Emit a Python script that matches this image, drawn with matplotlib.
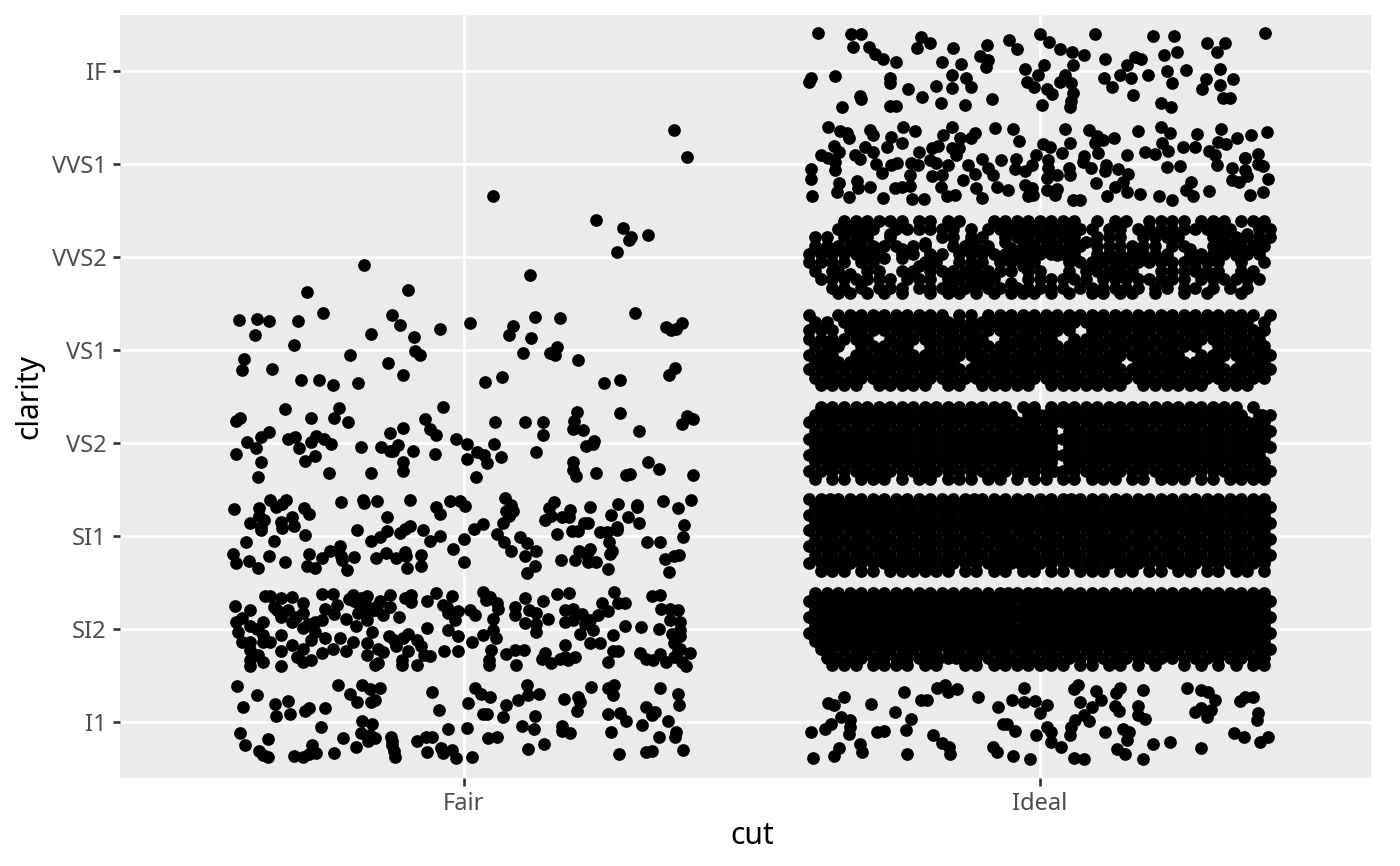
import matplotlib
matplotlib.use("Agg")
import matplotlib.pyplot as plt

# =========================
# data: jitter offset from the category centre, clarity position
# values, dense bands by eye
# =========================
cuts = ["Fair", "Ideal"]
clarity = ["I1", "SI2", "SI1", "VS2", "VS1", "VVS2", "VVS1", "IF"]

fair_i1 = [(-.393,1.387),(-.360,1.291),(-.383,1.158),(-.328,1.194),(-.305,1.230),(-.327,1.065),(-.302,1.086),(-.276,1.122),(-.269,1.147),(-.241,1.154),
(-.218,1.394),(-.197,1.301),(-.186,1.219),(-.176,1.402),(-.163,1.359),(-.146,1.369),(-.155,1.237),(-.162,1.219),(-.055,1.319),(-.043,1.129),
(.019,1.369),(.029,1.298),(.046,1.265),(.008,1.208),(.073,1.179),(.094,1.233),(.109,1.402),(.112,1.291),(.130,1.298),(.034,1.083),(.040,1.083),
(.068,1.050),(.123,1.068),(.174,1.248),(.199,1.265),(.201,1.219),(.196,1.118),(.220,1.380),(.251,1.362),(.261,1.398),(.259,1.291),(.250,1.086),
(.271,1.101),(.281,1.015),(.316,1.165),(.332,1.111),(.326,1.075),(.340,1.362),(.372,1.298),(.373,1.183),(.355,1.015),(.309,.972),
(-.389,.886),(-.380,.749),(-.340,.814),(-.356,.688),(-.340,.620),(-.349,.640),(-.295,.635),(-.279,.627),(-.263,.753),(-.257,.663),(-.268,.660),(-.248,.943),
(-.225,.663),(-.210,.825),(-.188,.735),(-.177,1.011),(-.160,.975),(-.179,.886),(-.163,.860),(-.166,.796),(-.155,.830),(-.126,.843),(-.124,.753),
(-.125,.800),(-.119,.627),(-.122,.690),(-.082,.796),(-.065,.843),(-.055,.843),(-.064,.681),(-.039,.717),(-.037,.670),(-.020,.699),(-.014,.609),
(-.027,.921),(.006,.939),(.015,.627),(.042,.825),(.058,.843),(.101,.957),(.122,.925),(.111,.710),(.140,.760),(.171,.961),(.170,.907),(.184,.878),
(.255,.896),(.269,.656),(.317,.674),(.326,.692),(.338,.835),(.368,.896),(.366,.843),(.381,.699)]

fair_si2 = [(-.398,2.25),(-.395,2.08),(-.392,1.97),(-.386,1.86),(-.372,2.20),(-.372,2.03),(-.372,1.86),(-.372,1.77),(-.372,1.67),(-.372,1.60),
(-.349,2.08),(-.349,1.94),(-.349,1.86),(-.349,1.65),(-.346,2.35),(-.337,2.35),(-.337,1.86),(-.325,2.20),(-.317,2.33),(-.317,2.13),(-.317,1.94),(-.317,1.76),
(-.317,1.60),(-.299,2.34),(-.299,2.08),(-.299,1.83),(-.279,2.28),(-.279,2.17),(-.279,2.01),(-.279,1.79),(-.279,1.65),(-.265,1.88),(-.265,1.67),(-.259,2.08),
(-.259,1.97),(-.247,2.38),(-.247,2.10),(-.247,1.74),(-.241,2.22),(-.241,1.90),(-.227,2.38),(-.227,1.79),(-.220,2.26),(-.204,2.11),(-.204,1.76),(-.192,2.37),
(-.192,1.86),(-.188,2.03),(-.184,2.28),(-.184,2.17),(-.169,2.35),(-.169,2.22),(-.169,2.10),(-.169,1.85),(-.169,1.72),(-.160,1.97),(-.149,1.79),(-.149,1.63),
(-.155,1.61),(-.140,2.15),(-.129,2.37),(-.129,2.24),(-.122,1.88),(-.113,2.13),(-.108,1.67),(-.108,1.61),(-.102,2.33),(-.097,1.95),(-.097,1.76),(-.082,1.61),
(-.082,1.88),(-.091,2.37),(-.091,2.29),(-.064,2.30),(-.064,2.01),(-.058,1.71),(-.049,2.39),(-.035,1.76),(-.036,2.26),(-.027,2.17),(-.027,1.99),(-.020,2.35),
(-.010,2.19),(-.010,1.92),(-.010,1.76),(.015,1.86),(.019,2.15),(.034,2.40),(.034,1.94),(.039,2.31),(.051,2.11),(.051,1.99),(.048,1.77),(.044,1.67),(.044,1.61),
(.057,2.28),(.074,1.73),(.089,2.24),(.089,2.15),(.089,1.77),(.091,1.61),(.106,2.33),(.106,2.06),(.104,1.77),(.126,2.17),(.126,1.97),(.137,2.30),(.141,1.74),
(.146,2.11),(.135,1.68),(.152,1.63),(.162,2.38),(.167,1.68),(.175,2.20),(.175,2.08),(.175,1.83),(.175,1.70),(.183,2.39),(.181,1.67),(.190,2.22),(.190,2.10),
(.193,1.70),(.201,1.95),(.219,2.10),(.219,1.85),(.225,1.99),(.233,2.15),(.237,1.85),(.239,2.28),(.251,2.19),(.251,1.65),(.259,1.94),(.259,1.76),(.261,2.40),
(.268,2.28),(.268,1.76),(.280,2.28),(.280,2.03),(.307,2.02),(.306,1.74),(.317,1.68),(.327,2.35),(.329,1.67),(.338,2.00),(.340,2.36),(.343,2.22),(.351,1.65),
(.358,2.10),(.358,2.22),(.364,1.85),(.364,1.70),(.371,2.20),(.375,2.08),(.375,1.99),(.375,1.92),(.375,1.79),(.378,1.65),(.386,1.60),(.393,1.74),
(-.385,2.12),(-.360,2.00),(-.358,1.72),(-.330,2.24),(-.305,2.20),(-.292,2.13),(-.290,1.70),(-.270,2.05),(-.225,2.16),(-.215,1.90),(-.200,2.32),(-.190,2.30),
(-.178,2.33),(-.172,2.28),(-.165,2.18),(-.155,2.20),(-.150,2.25),(-.145,2.30),(-.140,1.75),(-.130,1.92),(-.118,1.82),(-.105,1.90),(-.075,1.82),(-.070,1.72),
(-.030,2.24),(-.015,2.10),(.010,2.20),(.046,2.34),(.056,1.90),(.060,2.21),(.113,2.20),(.125,2.05),(.210,2.05),(.205,2.16),(.340,1.73),(.362,1.95),(.372,1.76)]

fair_si1 = [(-.399,3.29),(-.356,3.30),(-.337,3.39),(-.309,3.39),(-.326,3.31),(-.315,3.34),(-.277,3.30),(-.268,3.24),(-.213,3.37),(-.175,3.39),(-.173,3.35),
(-.150,3.38),(-.094,3.39),(-.049,3.31),(-.042,3.24),(-.024,3.38),(-.006,3.38),(.002,3.32),(.071,3.41),(.082,3.33),(.073,3.27),(.086,3.27),(.156,3.36),(.148,3.30),
(.184,3.28),(.219,3.31),(.268,3.34),(.300,3.33),(.300,3.31),(.345,3.38),(.372,3.30),(.394,3.39),
(-.372,3.14),(-.356,3.21),(-.347,3.17),(-.352,3.10),(-.353,3.06),(-.317,3.15),(-.316,3.09),(-.298,3.20),(-.295,3.11),(-.275,3.01),(-.185,3.06),(-.134,3.20),
(-.134,3.05),(-.146,2.99),(-.162,2.95),(-.111,3.03),(-.102,3.08),(-.093,3.11),(-.071,3.06),(-.059,2.95),(-.041,3.00),(0,2.97),(.017,3.08),(.034,3.13),(.068,3.14),
(.078,3.21),(.058,3.02),(.069,2.94),(.097,2.99),(.110,2.92),(.141,3.17),(.152,3.21),(.170,3.20),(.183,3.20),(.162,3.02),(.187,3.05),(.199,3.05),(.208,3.14),
(.216,3.14),(.236,3.04),(.248,3.04),(.256,3.22),(.266,3.10),(.266,3.06),(.285,3.20),(.304,3.14),(.252,2.93),(.318,2.94),(.340,2.93),(.382,3.12),(.380,2.99),
(-.379,2.93),(-.330,2.95),(-.401,2.81),(-.395,2.71),(-.373,2.73),(-.358,2.66),(-.338,2.78),(-.311,2.72),(-.268,2.81),(-.272,2.68),(-.258,2.66),(-.247,2.76),(-.233,2.84),
(-.215,2.89),(-.214,2.78),(-.211,2.74),(-.191,2.77),(-.203,2.63),(-.153,2.76),(-.135,2.82),(-.117,2.76),(-.103,2.83),(-.100,2.78),(-.099,2.66),(-.074,2.80),(-.074,2.68),
(-.019,2.86),(.000,2.72),(.081,2.84),(.106,2.78),(.126,2.84),(.123,2.68),(.110,2.60),(.169,2.74),(.193,2.74),(.200,2.84),(.219,2.86),(.213,2.79),(.230,2.72),
(.216,2.72),(.251,2.65),(.258,2.84),(.253,2.81),(.349,2.75),(.364,2.78),(.374,2.80),(.357,2.61)]

fair_vs2 = [(-.396,4.24),(-.388,4.27),(-.311,4.37),(-.266,4.27),(-.226,4.27),(-.217,4.38),(-.201,4.22),(-.338,4.12),(-.353,4.06),(-.377,4.01),(-.361,3.95),(-.395,3.88),
(-.352,3.79),(-.357,3.63),(-.305,4.04),(-.294,4.06),(-.287,3.95),(-.275,3.81),(-.258,3.86),(-.265,4.01),(-.256,4.07),(-.243,4.04),(-.230,3.99),(-.179,3.96),(-.234,3.68),
(-.162,3.68),(-.143,3.96),(-.129,4.11),(-.106,4.16),(-.114,3.98),(-.129,3.91),(-.123,3.91),(-.089,3.91),(-.106,3.80),(-.105,3.70),(-.068,4.26),(-.058,4.15),(-.048,4.09),
(-.036,4.39),(-.050,3.88),(-.013,4.04),(.006,3.99),(.022,3.90),(.006,3.83),(.035,3.87),(.040,3.78),(.052,3.99),(.065,3.85),(.021,3.63),(.054,4.23),(.106,4.22),
(.138,4.22),(.137,4.09),(.125,3.90),(.197,4.33),(.191,4.24),(.190,4.15),(.207,4.14),(.212,3.97),(.224,3.99),(.226,4.02),(.189,3.79),(.189,3.71),(.194,3.64),
(.229,3.68),(.271,4.32),(.304,4.13),(.320,3.79),(.338,3.72),(.281,3.66),(.288,3.67),(.397,3.66),(.388,4.29),(.397,4.26),(.378,4.20),
(-.385,4.78),(-.333,4.79),(-.283,4.68),(-.252,4.68),(-.227,4.62),(-.183,4.64),(-.105,4.73),(.036,4.66),(.067,4.71),(.244,4.64),(.271,4.68),(.356,4.73),(.367,4.81),
(-.381,4.90),(-.197,4.95),(-.085,4.99),(-.077,4.95),(-.131,4.86),(.103,4.97),(.161,5.03),(.158,4.94),(.199,4.89),(.149,4.97)]

fair_vs1 = [(-.390,5.32),(-.360,5.33),(-.339,5.31),(-.288,5.31),(-.244,5.40),(-.363,5.16),(-.295,5.05),(-.124,5.37),(-.111,5.27),(-.161,5.17),(-.087,5.14),(-.041,5.22),
(.010,5.29),(.086,5.26),(.078,5.16),(.123,5.35),(.167,5.34),(.116,5.13),(.298,5.40),(.351,5.25),(.378,5.29),(.369,5.22),(.360,5.21)]
fair_vvs2 = [(-.173,5.91),(-.273,5.62),(-.097,5.64),(.115,5.81)]
fair_vvs1 = [(.229,6.40),(.276,6.31),(.291,6.21),(.287,6.18),(.319,6.24),(.266,6.05)]
fair_if = [(.365,7.36),(.388,7.07),(.051,6.65)]

ideal_i1 = [(-.340,1.265),(-.368,1.201),(-.358,1.183),(-.293,1.197),(-.236,1.326),(-.206,1.237),(-.196,1.237),(-.178,1.362),(-.164,1.398),(-.159,1.326),(-.144,1.355),
(-.107,1.265),(-.073,1.165),(-.049,1.237),(-.028,1.366),(-.028,1.219),(-.009,1.230),(.013,1.183),(0,1.093),(.067,1.398),(.060,1.355),(.097,1.337),(.070,1.219),
(.107,1.237),(.091,1.158),(.139,1.362),(.133,1.308),(.180,1.344),(.131,1.176),(.137,1.118),(.170,1.176),(.171,1.075),(.182,1.029),(.255,1.362),(.279,1.344),(.292,1.319),
(.305,1.237),(.269,1.111),(.279,1.147),(.298,1.129),(.291,1.050),(.348,1.226),(.356,1.265),(.370,1.265),(.379,1.101),(.377,1.022),
(-.251,1.104),(-.223,1.032),(-.346,1.057),(-.329,1.022),(-.363,.979),(-.373,.921),(-.398,.889),(-.330,.950),(-.331,.871),(-.282,.889),(-.271,.907),(-.232,.914),
(-.185,.864),(-.169,.771),(-.158,.735),(-.156,.652),(-.231,.656),(-.313,.760),(-.309,.674),(-.349,.724),(-.358,.635),(-.393,.617),(-.081,.735),(-.074,.674),
(-.047,.638),(-.017,.602),(-.064,.979),(-.057,.979),(-.043,.903),(-.007,.864),(.013,.950),(.019,.896),(.019,.789),(.036,.728),(.052,.860),(.055,.950),(.061,1.022),
(.077,1.075),(.085,1.015),(.060,.617),(.077,.602),(.114,.889),(.145,.925),(.154,.896),(.151,.807),(.134,.710),(.148,.652),(.180,.602),(.196,.760),(.226,.781),
(.280,.724),(.338,.885),(.354,.843),(.383,.781),(.396,.843)]

ideal_if = [(-.385,8.405),(-.327,8.394),(-.310,8.394),(-.325,8.261),(-.297,8.254),(-.287,8.179),(-.272,8.125),(-.250,8.100),(-.206,8.362),(-.190,8.304),(-.213,8.244),
(-.150,8.244),(-.170,8.097),(-.136,8.072),(-.104,8.154),(-.091,8.279),(-.090,8.118),(-.093,8.046),(-.053,8.326),(-.039,8.236),(0,8.398),(.016,8.308),(.035,8.236),
(.056,8.200),(.077,8.165),(.058,8.064),(.008,8.064),(-.025,8.021),(-.003,7.957),(.096,8.398),(.114,8.125),(.197,8.369),(.233,8.369),(.290,8.297),(.321,8.304),(.307,8.197),
(.391,8.405),(.215,8.165),(.238,8.200),(.165,8.147),(.176,8.125),(.152,8.064),(.254,8.011),(.220,8.000),(.187,7.957),(.139,7.957),(.159,7.921),(.229,7.867),(.313,8.018),
(.336,7.910),(.289,7.910),(.312,7.849),(.281,7.806),(.112,7.928),(.126,7.831),(.162,7.742),(.211,7.652),(.227,7.606),(.318,7.706),(.330,7.706),
(-.400,7.885),(-.397,7.921),(-.356,7.939),(-.260,7.921),(-.260,7.867),(-.152,7.957),(-.129,7.928),(-.120,7.831),(-.153,7.813),(-.180,7.842),(-.228,7.803),(-.204,7.717),
(-.313,7.724),(-.310,7.695),(-.344,7.613),(-.260,7.623),(-.250,7.623),(-.172,7.652),(-.130,7.634),(-.083,7.699),(-.023,7.885),(-.010,7.824),(.012,7.806),(.022,7.753),
(.003,7.634),(.035,7.885),(.044,7.957),(.055,7.867),(.058,7.760),(.055,7.677),(.052,7.606)]

ideal_vvs1 = [(-.368,7.394),(-.347,7.358),(-.334,7.330),(-.332,7.276),(-.295,7.365),(-.289,7.312),(-.259,7.287),(-.237,7.394),(-.217,7.355),(-.153,7.401),(-.168,7.312),(-.139,7.276),
(-.113,7.330),(-.119,7.283),(-.078,7.383),(-.046,7.373),(-.036,7.247),(.043,7.376),(.086,7.365),(.100,7.301),(.129,7.283),(.110,7.258),(.170,7.358),(.211,7.391),(.226,7.330),
(.273,7.322),(.314,7.373),(.342,7.276),(.366,7.312),(.395,7.340),(-.358,7.197),(-.304,7.176),(-.289,7.125),(-.265,7.186),(-.240,7.222),(-.210,7.125),(-.188,7.168),(-.177,7.197),
(-.153,7.168),(-.141,7.168),(.006,7.211),(.017,7.186),(.053,7.222),(.095,7.222),(.039,7.115),(.152,7.097),(.182,7.125),(.200,7.104),(.212,7.222),(.223,7.133),(.248,7.176),
(.270,7.179),(.293,7.143),(.310,7.240),(.324,7.215),(.305,7.097),(.378,7.107),(.356,7.061),(-.380,7.097),(-.367,7.061),(-.349,7.122),(-.321,7.097),(-.312,7.050),(-.356,7.025),
(-.285,7.000),(-.258,6.989),(-.248,7.014),(-.223,7.007),(-.191,7.036),(-.180,7.007),(-.145,7.097),(-.100,7.050),(-.068,7.043),(-.042,7.050),(-.006,7.097),(.014,7.036),
(.077,7.079),(.101,7.115),(.075,7.025),(.378,7.000),(.356,7.061),(-.397,6.946),(-.398,6.835),(-.355,6.935),(-.274,6.900),(-.225,6.882),(-.212,6.989),(-.159,6.989),(-.170,6.882),
(-.188,6.871),(-.124,6.989),(-.090,6.953),(-.113,6.889),(-.081,6.882),(-.043,6.946),(-.026,6.918),(-.014,6.989),(.014,6.953),(.012,6.853),(.029,6.882),(.051,6.953),
(.052,6.882),(.089,6.953),(.115,6.989),(.113,6.918),(.136,6.946),(.153,6.889),(.220,6.964),(.244,6.978),(.308,6.989),(.388,6.978),(.333,6.953),(.356,6.935),(.359,6.874),
(.333,6.828),(.345,6.810),(-.349,6.792),(-.353,6.692),(-.317,6.817),(-.316,6.738),(-.294,6.756),(-.331,6.642),(-.395,6.649),(-.273,6.631),(-.252,6.738),(-.240,6.749),(-.226,6.767),
(-.222,6.624),(-.201,6.624),(-.171,6.756),(-.134,6.828),(-.162,6.649),(-.148,6.667),(-.110,6.738),(-.100,6.638),(-.075,6.756),(-.056,6.720),(-.026,6.774),(-.013,6.738),
(-.021,6.649),(-.012,6.667),(.012,6.720),(.029,6.731),(.026,6.667),(.058,6.613),(.069,6.613),(.098,6.799),(.116,6.649),(.130,6.756),(.145,6.810),(.151,6.702),(.174,6.674),
(.207,6.649),(.230,6.613),(.263,6.810),(.254,6.720),(.266,6.649),(.294,6.713),(.365,6.667),(.388,6.702),(.397,6.835)]

ideal_vvs2_y = [6.39,6.30,6.21,6.12,6.03,5.94,5.85,5.76,5.67,5.61]
ideal_vvs2_x = [
[-.34,-.32,-.30,-.28,-.26,-.24,-.21,-.19,-.16,-.14,-.08,-.06,-.04,-.02,0,.02,.04,.06,.10,.13,.15,.19,.21,.23,.25,.28,.30,.32,.35,.37,.39],
[-.35,-.33,-.31,-.29,-.25,-.23,-.21,-.19,-.17,-.15,-.12,-.09,-.07,-.05,-.03,-.01,.01,.03,.05,.07,.09,.12,.14,.17,.19,.21,.23,.25,.27,.29,.31,.33,.38,.40],
[-.39,-.37,-.34,-.32,-.30,-.26,-.17,-.15,-.12,-.10,-.06,-.04,-.02,0,.02,.04,.06,.10,.12,.14,.18,.20,.22,.24,.30,.32,.34,.36,.38,.40],
[-.39,-.37,-.35,-.33,-.31,-.29,-.27,-.25,-.22,-.20,-.15,-.13,-.11,-.09,-.03,-.01,.01,.03,.05,.07,.10,.12,.14,.16,.18,.20,.23,.25,.31,.33,.35,.37,.39],
[-.40,-.38,-.36,-.34,-.32,-.30,-.28,-.24,-.22,-.19,-.17,-.14,-.12,-.10,-.08,-.06,-.04,-.02,0,.02,.04,.06,.10,.12,.14,.16,.18,.20,.22,.26,.28,.30,.32,.36,.38],
[-.40,-.38,-.36,-.34,-.31,-.29,-.20,-.18,-.14,-.12,-.10,-.07,-.05,-.03,-.01,.05,.07,.09,.11,.13,.15,.17,.19,.21,.23,.25,.27,.29,.31,.35,.39],
[-.39,-.35,-.30,-.28,-.24,-.22,-.19,-.17,-.15,-.13,-.11,-.09,-.07,-.05,-.02,0,.05,.08,.10,.12,.14,.16,.21,.23,.25,.27,.29,.31,.35,.37],
[-.38,-.36,-.34,-.32,-.30,-.28,-.26,-.23,-.21,-.19,-.16,-.14,-.12,-.10,-.08,-.02,0,.02,.04,.06,.08,.11,.13,.15,.17,.19,.21,.23,.25,.28,.30,.32,.34,.36,.38],
[-.36,-.34,-.31,-.28,-.26,-.24,-.21,-.19,-.17,-.15,-.13,-.11,-.09,-.07,-.04,-.02,0,.02,.04,.07,.09,.11,.13,.15,.17,.20,.22,.25,.27,.30,.33,.36],
[-.35,-.33,-.30,-.27,-.24,-.19,-.16,-.14,-.11,-.08,-.05,-.03,-.01,.02,.05,.09,.11,.14,.16,.20,.25,.29,.35],
]
ideal_vvs2_fill = [(-.27,5.99),(-.28,6.05),(-.24,5.99),(-.24,6.08),(-.20,6.15),(-.21,5.90),(-.06,6.16),(-.05,6.10),(.03,6.02),(.02,6.08),(.31,6.18),(.30,6.12),(.32,6.12),
(-.07,5.98),(-.03,5.90),(.08,6.16),(.17,6.05),(.26,6.08),(-.36,5.85),(-.33,5.82),(-.26,6.25),(-.12,6.17),(-.10,5.72),(-.05,5.72),(.34,6.02),(.27,5.88),(.36,6.25)]

ideal_vs1_y = [5.38,5.30,5.21,5.12,5.04,4.95,4.87,4.79,4.70,4.62]
ideal_vs1_x = [
[-.40,-.35,-.33,-.31,-.29,-.27,-.25,-.23,-.21,-.19,-.17,-.14,-.12,-.09,-.07,-.05,-.03,-.01,.01,.03,.05,.07,.09,.11,.13,.15,.17,.19,.21,.23,.25,.27,.29,.31,.33,.35,.37,.40],
[-.39,-.37,-.34,-.32,-.30,-.28,-.26,-.24,-.22,-.20,-.18,-.16,-.14,-.12,-.10,-.08,-.06,-.04,-.02,0,.02,.04,.06,.08,.10,.12,.14,.16,.18,.20,.22,.24,.26,.28,.30,.32,.34,.36,.39],
[-.40,-.38,-.36,-.33,-.31,-.29,-.27,-.25,-.23,-.21,-.19,-.17,-.15,-.13,-.11,-.09,-.07,-.05,-.03,-.01,.01,.03,.05,.09,.11,.13,.15,.17,.19,.21,.23,.25,.27,.29,.31,.33,.35,.37,.39],
[-.40,-.38,-.36,-.34,-.32,-.30,-.26,-.24,-.22,-.20,-.18,-.16,-.14,-.12,-.10,-.06,-.04,-.02,0,.02,.06,.08,.10,.12,.14,.16,.18,.20,.22,.24,.26,.28,.30,.32,.34,.36,.38],
[-.39,-.37,-.35,-.31,-.29,-.27,-.25,-.23,-.19,-.17,-.15,-.13,-.11,-.09,-.07,-.05,-.03,-.01,.01,.03,.05,.07,.09,.11,.13,.15,.17,.19,.21,.23,.25,.27,.31,.33,.35,.37,.39],
[-.40,-.38,-.36,-.32,-.30,-.28,-.26,-.24,-.22,-.20,-.18,-.16,-.14,-.12,-.10,-.08,-.06,-.04,-.02,0,.02,.04,.06,.08,.10,.12,.14,.16,.18,.20,.22,.24,.28,.30,.32,.34,.36,.38,.40],
[-.39,-.37,-.35,-.33,-.31,-.29,-.27,-.25,-.23,-.21,-.19,-.17,-.15,-.11,-.09,-.07,-.05,-.03,-.01,.01,.03,.05,.07,.09,.11,.13,.17,.19,.21,.23,.25,.27,.29,.31,.35,.37,.39],
[-.40,-.38,-.36,-.34,-.32,-.30,-.28,-.26,-.24,-.22,-.20,-.18,-.16,-.14,-.12,-.10,-.08,-.06,-.04,-.02,0,.02,.04,.06,.08,.10,.12,.14,.16,.18,.20,.22,.24,.26,.28,.30,.32,.34,.36,.38,.40],
[-.39,-.37,-.35,-.33,-.31,-.29,-.27,-.25,-.23,-.21,-.19,-.17,-.15,-.13,-.11,-.09,-.07,-.05,-.03,-.01,.01,.03,.05,.07,.09,.11,.13,.15,.17,.19,.21,.23,.25,.27,.29,.31,.33,.35,.37,.39],
[-.38,-.36,-.34,-.32,-.28,-.26,-.24,-.22,-.20,-.16,-.14,-.10,-.08,-.06,-.04,-.02,.02,.04,.06,.08,.10,.12,.14,.18,.20,.22,.24,.26,.28,.32,.34,.36],
]

ideal_vs2_y = [4.39,4.30,4.22,4.13,4.04,3.96,3.87,3.79,3.70,3.61]
ideal_vs2_x = [
[-.38,-.36,-.34,-.32,-.30,-.28,-.26,-.24,-.22,-.20,-.18,-.16,-.14,-.12,-.10,-.08,-.06,-.03,-.01,.02,.04,.06,.08,.10,.12,.14,.16,.18,.20,.22,.24,.26,.28,.30,.32,.34,.37],
[-.39,-.37,-.35,-.33,-.31,-.29,-.27,-.25,-.23,-.21,-.19,-.17,-.15,-.13,-.11,-.09,-.07,-.05,-.02,0,.03,.05,.07,.09,.11,.13,.15,.17,.19,.21,.23,.25,.27,.29,.31,.33,.35,.38,.40],
[-.40,-.38,-.36,-.34,-.32,-.30,-.28,-.26,-.24,-.22,-.20,-.18,-.16,-.14,-.12,-.10,-.08,-.06,-.04,-.01,.01,.04,.06,.08,.10,.12,.14,.16,.18,.20,.22,.24,.26,.28,.30,.32,.34,.36,.39],
[-.39,-.37,-.35,-.33,-.31,-.29,-.27,-.25,-.23,-.21,-.19,-.17,-.15,-.13,-.11,-.09,-.07,-.05,-.03,0,.02,.05,.07,.09,.11,.13,.15,.17,.19,.21,.23,.25,.27,.29,.31,.33,.35,.37,.40],
[-.40,-.38,-.36,-.34,-.32,-.30,-.28,-.26,-.24,-.22,-.20,-.18,-.16,-.14,-.12,-.10,-.08,-.06,-.04,-.01,.01,.04,.06,.08,.10,.12,.14,.16,.18,.20,.22,.24,.26,.28,.30,.32,.34,.36,.39],
[-.39,-.37,-.35,-.33,-.31,-.29,-.27,-.25,-.23,-.21,-.19,-.17,-.15,-.13,-.11,-.09,-.07,-.05,-.03,0,.02,.05,.07,.09,.11,.13,.15,.17,.19,.21,.23,.25,.27,.29,.31,.33,.35,.37,.40],
[-.40,-.38,-.36,-.34,-.32,-.30,-.28,-.26,-.24,-.22,-.20,-.18,-.16,-.14,-.12,-.10,-.08,-.06,-.04,-.01,.01,.04,.06,.08,.10,.12,.14,.16,.18,.20,.22,.24,.26,.28,.30,.32,.34,.36,.38],
[-.39,-.37,-.35,-.33,-.31,-.29,-.27,-.25,-.23,-.21,-.19,-.17,-.15,-.13,-.11,-.09,-.07,-.05,-.03,0,.02,.05,.07,.09,.11,.13,.15,.17,.19,.21,.23,.25,.27,.29,.31,.33,.35,.37,.39],
[-.40,-.38,-.36,-.34,-.32,-.30,-.28,-.26,-.24,-.22,-.20,-.18,-.16,-.14,-.12,-.10,-.08,-.06,-.04,-.01,.01,.04,.06,.08,.10,.12,.14,.16,.18,.20,.22,.24,.26,.28,.30,.32,.34,.36,.38,.40],
[-.39,-.36,-.34,-.31,-.29,-.27,-.24,-.21,-.19,-.16,-.14,-.12,-.09,-.07,-.04,-.01,.01,.04,.06,.09,.11,.13,.16,.18,.21,.23,.25,.28,.30,.33,.35,.37,.39],
]
ideal_vs2_fill = [(-.025,4.22),(-.025,4.04),(-.025,3.87),(-.025,3.70),(-.015,4.30),(-.015,4.13),(-.015,3.96),(-.015,3.79),(.01,4.30),(.01,4.13),(.01,3.96),(.01,3.79),
(.025,4.22),(.025,4.04),(.025,3.87),(.025,3.70),(.375,4.22),(.375,4.04),(.375,3.87),(.385,4.30),(.385,4.13),(.385,3.96),(.385,3.79)]

ideal_si1_y = [3.40,3.31,3.23,3.14,3.06,2.97,2.89,2.80,2.71,2.62]
ideal_si1_x = [
[-.40,-.38,-.35,-.33,-.31,-.29,-.27,-.25,-.23,-.21,-.19,-.17,-.15,-.13,-.10,-.08,-.06,-.04,-.02,0,.02,.04,.07,.09,.11,.13,.15,.17,.19,.21,.23,.25,.27,.29,.31,.33,.35,.37,.39],
[-.39,-.37,-.36,-.34,-.32,-.30,-.28,-.26,-.24,-.22,-.20,-.18,-.16,-.14,-.12,-.09,-.07,-.05,-.03,-.01,.01,.03,.05,.08,.10,.12,.14,.16,.18,.20,.22,.24,.26,.28,.30,.32,.34,.36,.38,.40],
[-.40,-.38,-.35,-.33,-.31,-.29,-.27,-.25,-.23,-.21,-.19,-.17,-.15,-.13,-.11,-.08,-.06,-.04,-.02,0,.02,.04,.06,.09,.11,.13,.15,.17,.19,.21,.23,.25,.27,.29,.31,.33,.35,.37,.39],
[-.39,-.37,-.36,-.34,-.32,-.30,-.28,-.26,-.24,-.22,-.20,-.18,-.16,-.14,-.12,-.10,-.07,-.05,-.03,-.01,.01,.03,.05,.07,.10,.12,.14,.16,.18,.20,.22,.24,.26,.28,.30,.32,.34,.36,.38,.40],
[-.40,-.38,-.35,-.33,-.31,-.29,-.27,-.25,-.23,-.21,-.19,-.17,-.15,-.13,-.11,-.09,-.06,-.04,-.02,0,.02,.04,.06,.08,.11,.13,.15,.17,.19,.21,.23,.25,.27,.29,.31,.33,.35,.37,.39],
[-.39,-.37,-.36,-.34,-.32,-.30,-.28,-.26,-.24,-.22,-.20,-.18,-.16,-.14,-.12,-.10,-.08,-.05,-.03,-.01,.01,.03,.05,.07,.09,.12,.14,.16,.18,.20,.22,.24,.26,.28,.30,.32,.34,.36,.38,.40],
[-.40,-.38,-.35,-.33,-.31,-.29,-.27,-.25,-.23,-.21,-.19,-.17,-.15,-.13,-.11,-.09,-.07,-.04,-.02,0,.02,.04,.06,.08,.10,.13,.15,.17,.19,.21,.23,.25,.27,.29,.31,.33,.35,.37,.39],
[-.39,-.37,-.36,-.34,-.32,-.30,-.28,-.26,-.24,-.22,-.20,-.18,-.16,-.14,-.12,-.10,-.08,-.06,-.03,-.01,.01,.03,.05,.07,.09,.11,.14,.16,.18,.20,.22,.24,.26,.28,.30,.32,.34,.36,.38,.40],
[-.40,-.38,-.35,-.33,-.31,-.29,-.27,-.25,-.23,-.21,-.19,-.17,-.15,-.13,-.11,-.09,-.07,-.05,-.02,0,.02,.04,.06,.08,.10,.12,.15,.17,.19,.21,.23,.25,.27,.29,.31,.33,.35,.37,.39],
[-.38,-.36,-.34,-.31,-.29,-.26,-.24,-.22,-.20,-.18,-.16,-.13,-.11,-.08,-.06,-.03,-.01,.02,.04,.07,.09,.11,.14,.16,.19,.21,.24,.26,.29,.31,.34,.36,.39],
]
ideal_si1_fill = [(-.115,3.40),(-.105,3.31),(-.095,3.23),(-.085,3.14),(-.075,3.06),(-.065,2.97),(-.055,2.89),(-.045,2.80),(-.035,2.71),
(.055,3.40),(.065,3.31),(.075,3.23),(.085,3.14),(.095,3.06),(.105,2.97),(.115,2.89),(.125,2.80),(.135,2.71),
(-.365,3.40),(-.365,3.23),(-.365,3.06),(-.365,2.89),(-.365,2.71)]

ideal_si2_y = [2.39,2.30,2.21,2.13,2.04,1.96,1.87,1.78,1.69,1.61]
ideal_si2_x = [
[-.39,-.37,-.35,-.33,-.31,-.29,-.27,-.25,-.23,-.21,-.19,-.17,-.15,-.13,-.11,-.09,-.07,-.04,-.02,.01,.03,.05,.07,.09,.11,.13,.15,.17,.19,.21,.23,.25,.27,.29,.31,.33,.35,.37,.39],
[-.40,-.38,-.36,-.34,-.32,-.30,-.28,-.26,-.24,-.22,-.20,-.18,-.16,-.14,-.12,-.10,-.08,-.05,-.03,0,.02,.04,.06,.08,.10,.12,.14,.16,.18,.20,.22,.24,.26,.28,.30,.32,.34,.36,.38,.40],
[-.39,-.37,-.35,-.33,-.31,-.29,-.27,-.25,-.23,-.21,-.19,-.17,-.15,-.13,-.11,-.09,-.07,-.05,-.02,.01,.03,.05,.07,.09,.11,.13,.15,.17,.19,.21,.23,.25,.27,.29,.31,.33,.35,.37,.39],
[-.40,-.38,-.36,-.34,-.32,-.30,-.28,-.26,-.24,-.22,-.20,-.18,-.16,-.14,-.12,-.10,-.08,-.06,-.03,0,.02,.04,.06,.08,.10,.12,.14,.16,.18,.20,.22,.24,.26,.28,.30,.32,.34,.36,.38,.40],
[-.39,-.37,-.35,-.33,-.31,-.29,-.27,-.25,-.23,-.21,-.19,-.17,-.15,-.13,-.11,-.09,-.07,-.05,-.03,.01,.03,.05,.07,.09,.11,.13,.15,.17,.19,.21,.23,.25,.27,.29,.31,.33,.35,.37,.39],
[-.40,-.38,-.36,-.34,-.32,-.30,-.28,-.26,-.24,-.22,-.20,-.18,-.16,-.14,-.12,-.10,-.08,-.06,-.04,0,.02,.04,.06,.08,.10,.12,.14,.16,.18,.20,.22,.24,.26,.28,.30,.32,.34,.36,.38,.40],
[-.39,-.37,-.35,-.33,-.31,-.29,-.27,-.25,-.23,-.21,-.19,-.17,-.15,-.13,-.11,-.09,-.07,-.05,-.03,-.01,.03,.05,.07,.09,.11,.13,.15,.17,.19,.21,.23,.25,.27,.29,.31,.33,.35,.37,.39],
[-.38,-.36,-.34,-.32,-.30,-.28,-.26,-.24,-.22,-.20,-.18,-.16,-.14,-.12,-.10,-.08,-.06,-.04,-.02,0,.02,.04,.06,.08,.10,.12,.14,.16,.18,.20,.22,.24,.26,.28,.30,.32,.34,.36,.38,.40],
[-.37,-.35,-.33,-.31,-.29,-.27,-.25,-.23,-.21,-.19,-.16,-.13,-.11,-.09,-.07,-.05,-.03,-.01,.01,.03,.05,.07,.09,.11,.13,.15,.17,.19,.21,.23,.25,.27,.29,.31,.33,.35,.37,.39],
[-.36,-.34,-.32,-.29,-.27,-.25,-.23,-.20,-.18,-.13,-.11,-.08,-.06,-.04,-.02,0,.02,.04,.07,.09,.12,.14,.17,.20,.25,.28,.31,.34,.37,.39],
]
ideal_si2_fill = [(-.055,2.39),(-.005,2.39),(-.065,2.30),(-.015,2.30),(-.035,2.21),(-.005,2.21),(-.045,2.13),(-.015,2.13),(-.01,2.04),(-.02,1.96),(.01,1.87),(-.175,1.69),(-.145,1.69)]

# =========================
# figure
# =========================
plt.rcParams["font.family"] = ["Noto Sans", "DejaVu Sans"]

fig = plt.figure(figsize=(7, 4.33), dpi=200, facecolor="white")
ax = fig.add_axes([120 / 1400, 1 - 778 / 866, 1251 / 1400, 763 / 866], facecolor="#EBEBEB")

fair_pts = fair_i1 + fair_si2 + fair_si1 + fair_vs2 + fair_vs1 + fair_vvs2 + fair_vvs1 + fair_if
ideal_pts = ideal_i1 + ideal_vvs1 + ideal_if + ideal_vvs2_fill + ideal_vs2_fill + ideal_si1_fill + ideal_si2_fill

ideal_rows = [
    (ideal_vvs2_y, ideal_vvs2_x),
    (ideal_vs1_y, ideal_vs1_x),
    (ideal_vs2_y, ideal_vs2_x),
    (ideal_si1_y, ideal_si1_x),
    (ideal_si2_y, ideal_si2_x),
]
for rows_y, rows_x in ideal_rows:
    for y, row in zip(rows_y, rows_x):
        ideal_pts = ideal_pts + [(x, y) for x in row]

for pos, pts in [(1, fair_pts), (2, ideal_pts)]:
    ax.scatter([pos + p[0] for p in pts], [p[1] for p in pts],
               s=21, color="black", linewidths=0, zorder=3)

ax.set_xlim(0.403, 2.575)
ax.set_ylim(0.398, 8.60)
ax.set_xticks([1, 2], cuts)
ax.set_yticks(range(1, 9), clarity)

ax.grid(True, color="white", linewidth=0.95, zorder=1)
ax.set_axisbelow(True)
for side in ax.spines.values():
    side.set_visible(False)

ax.tick_params(axis="both", length=2.7, width=0.95, color="#333333",
               labelcolor="#4D4D4D", labelsize=8.5, pad=2.2)
ax.set_xlabel("cut", fontsize=10.8, color="black", labelpad=2)
ax.xaxis.label.set_x(0.505)
ax.set_ylabel("clarity", fontsize=10.8, color="black", labelpad=2.5)

fig.savefig("out.png", dpi=200)
